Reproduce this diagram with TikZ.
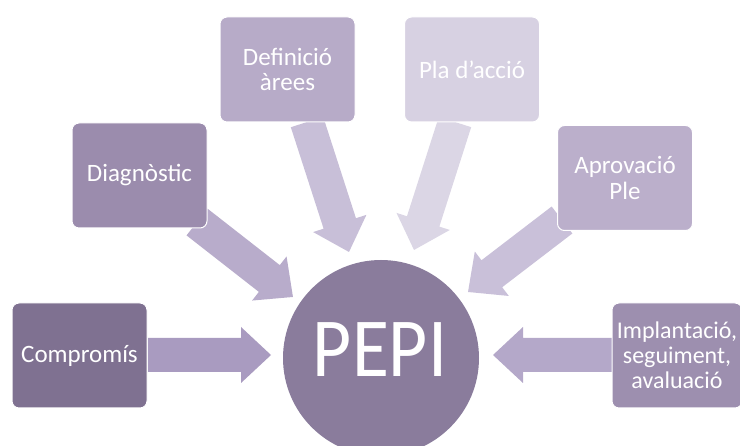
\documentclass[tikz,border=0pt]{standalone}
\usepackage{fontspec}
\setmainfont{Carlito}
\usetikzlibrary{calc}
\definecolor{circ}{HTML}{8A7C9C}
\definecolor{bA}{HTML}{7F7191}
\definecolor{bB}{HTML}{9B8CAD}
\definecolor{bC}{HTML}{B7ABC8}
\definecolor{bD}{HTML}{D7D1E2}
\definecolor{bE}{HTML}{BBAFCB}
\definecolor{bF}{HTML}{9D8FAF}
\definecolor{aA}{HTML}{A99BC0}
\definecolor{aB}{HTML}{B8ACCB}
\definecolor{aC}{HTML}{C8BFD8}
\definecolor{aD}{HTML}{DBD6E5}
\definecolor{aE}{HTML}{C9C0D9}
\definecolor{aF}{HTML}{B4A8C9}
\newcommand\fatarrow[3]{%
  \fill[#1] let \p1=(#2), \p2=(#3), \n1={atan2(\y2-\y1,\x2-\x1)}, \n2={veclen(\x2-\x1,\y2-\y1)} in
  [shift={(\p1)}, rotate=\n1]
  (0pt,-17pt) -- ({\n2*1pt-30pt},-17pt) -- ({\n2*1pt-30pt},-28pt) -- ({\n2*1pt},0pt)
  -- ({\n2*1pt-30pt},28pt) -- ({\n2*1pt-30pt},17pt) -- (0pt,17pt) -- cycle;}
\tikzset{
  box/.style={draw=white, line width=1pt, rounded corners=7pt, minimum width=135pt,
    minimum height=105pt, text=white, align=center, inner sep=0pt,
    font=\fontsize{25}{25.5}\selectfont},
  hub/.style={circle, fill=circ, minimum size=196pt, inner sep=0pt},
  hubtext/.style={text=white, inner sep=0pt, xscale=0.9, transform shape,
    font=\fontsize{84}{84}\selectfont}
}
\begin{document}
\begin{tikzpicture}[x=1pt,y=-1pt]
\useasboundingbox (0,0) rectangle (740,446);
% arrow end points
\coordinate (s1) at (148,355);  \coordinate (t1) at (271,355);
\coordinate (s2) at (197,222);  \coordinate (t2) at (293,297);
\coordinate (s3) at (307,122);  \coordinate (t3) at (349,252);
\coordinate (s4) at (455,122);  \coordinate (t4) at (414,250);
\coordinate (s5) at (562,220);  \coordinate (t5) at (468,292);
\coordinate (s6) at (614,355);  \coordinate (t6) at (493,355);
\fatarrow{aA}{s1}{t1}
\fatarrow{aB}{s2}{t2}
\fatarrow{aC}{s3}{t3}
\fatarrow{aD}{s4}{t4}
\fatarrow{aE}{s5}{t5}
\fatarrow{aF}{s6}{t6}
% hub
\node[hub] (pepi) at (381,358) {};
\node[hubtext] (pepilabel) at (380,350) {PEPI};
% boxes
\node[box, fill=bA] (comp) at (79.5,355.5) {Compromís};
\node[box, fill=bB] (diag) at (139.5,175.5) {Diagnòstic};
\node[box, fill=bC] (defi) at (287.5,69.5) {Definició\\àrees};
\node[box, fill=bD] (pla) at (472,69.5) {Pla d'acció};
\node[box, fill=bE] (aprov) at (625,178) {Aprovació\\Ple};
\node[box, fill=bF, minimum width=130pt, font=\fontsize{24}{25}\selectfont] (impl) at (677,355.5) {Implantació,\\seguiment,\\avaluació};
\end{tikzpicture}
\end{document}
